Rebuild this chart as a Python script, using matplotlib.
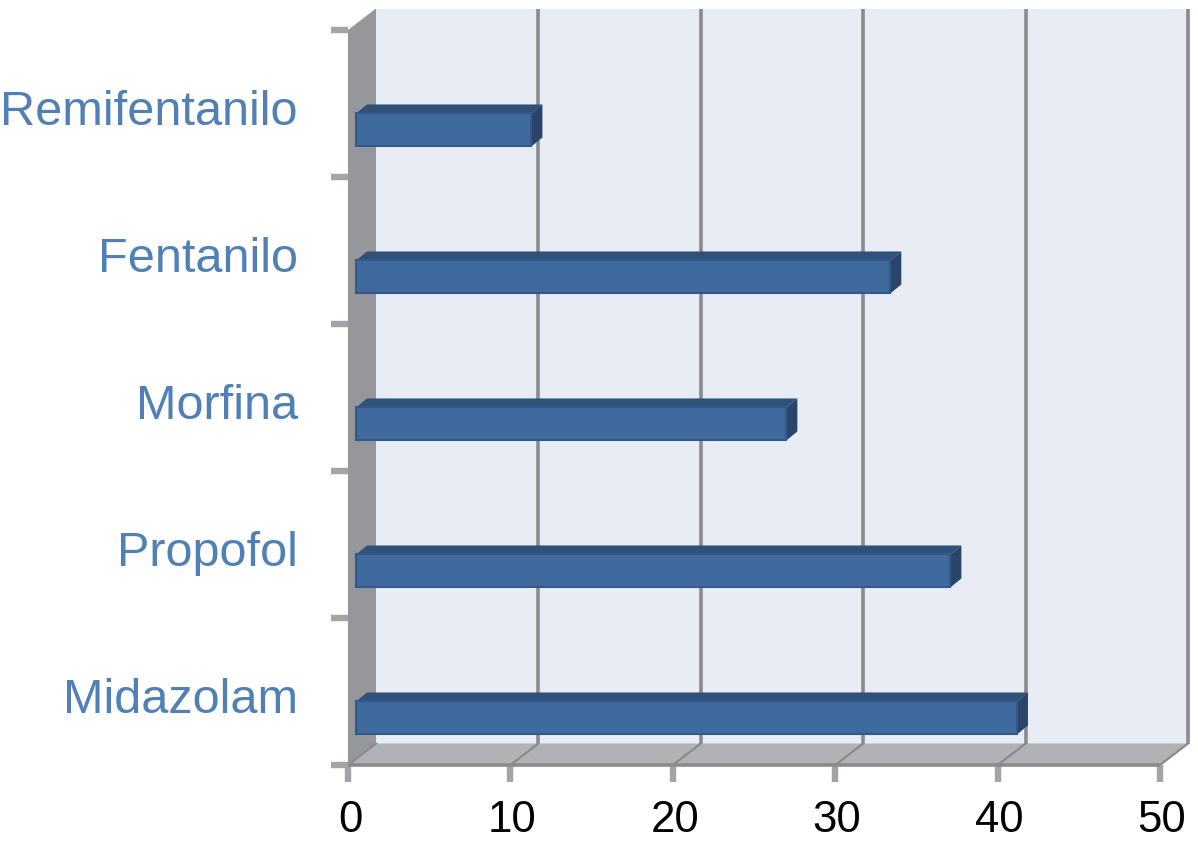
import numpy as np
import matplotlib
matplotlib.use('Agg')
import matplotlib.pyplot as plt
from matplotlib.patches import Polygon

categories = ['Midazolam', 'Propofol', 'Morfina', 'Fentanilo', 'Remifentanilo']
values = [40.7, 36.6, 26.5, 32.9, 10.8]
xticks = [0, 10, 20, 30, 40, 50]

W, H = 1198, 841
plt.rcParams['font.family'] = ['Liberation Sans', 'DejaVu Sans']

fig = plt.figure(figsize=(W / 100, H / 100), dpi=100)
# front plane of the fake 3d box: x 348..1160 px, y 30..765 px
ax = fig.add_axes([348 / W, 1 - 765 / H, (1160 - 348) / W, (765 - 30) / H])
ax.set_xlim(0, 50)
ax.set_ylim(0, 5)
ax.axis('off')

px = 50 / (1160 - 348)   # data units per pixel, x
py = 5 / (765 - 30)      # data units per pixel, y
dx, dy = 28 * px, 21.5 * py  # depth of the box

def poly(pts, color, z, ec='none', lw=0):
    ax.add_patch(Polygon(pts, closed=True, fc=color, ec=ec, lw=lw, zorder=z, clip_on=False))

# back wall, side wall, floor
poly([(dx, dy), (50 + dx, dy), (50 + dx, 5 + dy), (dx, 5 + dy)], '#e8ecf5', 1)
poly([(0, 0), (dx, dy), (dx, 5 + dy), (0, 5)], '#96979b', 2)
poly([(0, 0), (50, 0), (50 + dx, dy), (dx, dy)], '#b0b2b6', 2)

grid = '#8b8b8d'
for t in xticks:
    if t > 0:
        ax.plot([t + dx, t + dx], [dy, 5 + dy], color=grid, lw=2.6, zorder=3, clip_on=False, solid_capstyle='butt')
    ax.plot([t, t + dx], [0, dy], color=grid, lw=1.6, zorder=3, clip_on=False)
    ax.plot([t, t], [0, -17 * py], color='#a3a4a7', lw=4.6, zorder=3, clip_on=False, solid_capstyle='butt')
    ax.text(t + 2 * px, -55 * py, str(t), fontsize=31.5, color='black', ha='center', va='center')
ax.plot([0, 50], [0, 0], color=grid, lw=2.6, zorder=3, clip_on=False, solid_capstyle='butt')

# category ticks on the left edge
for i in range(6):
    ax.plot([-17 * px, 0], [i, i], color='#a3a4a7', lw=4.6, zorder=3, clip_on=False, solid_capstyle='butt')

# bars with top and end faces
x0 = 8 * px
bar_h = 33 * py
bdx, bdy = 11 * px, 9 * py
for i, (name, v) in enumerate(zip(categories, values)):
    y0 = i + 0.5 - 0.18 - bar_h / 2
    y1 = y0 + bar_h
    x1 = x0 + v
    poly([(x0, y1), (x1, y1), (x1 + bdx, y1 + bdy), (x0 + bdx, y1 + bdy)], '#2f5077', 5)
    poly([(x1, y0), (x1 + bdx, y0 + bdy), (x1 + bdx, y1 + bdy), (x1, y1)], '#2a4569', 5)
    ax.barh(y0, v, height=bar_h, left=x0, align='edge', color='#3f6a9e', edgecolor='#34588a',
            linewidth=1.5, zorder=6, clip_on=False)
    ax.text(-50 * px, i + 0.5 - 9 * py, name, fontsize=35, color='#5080b5', ha='right', va='center')

fig.savefig('out.png', dpi=100, facecolor='white')
